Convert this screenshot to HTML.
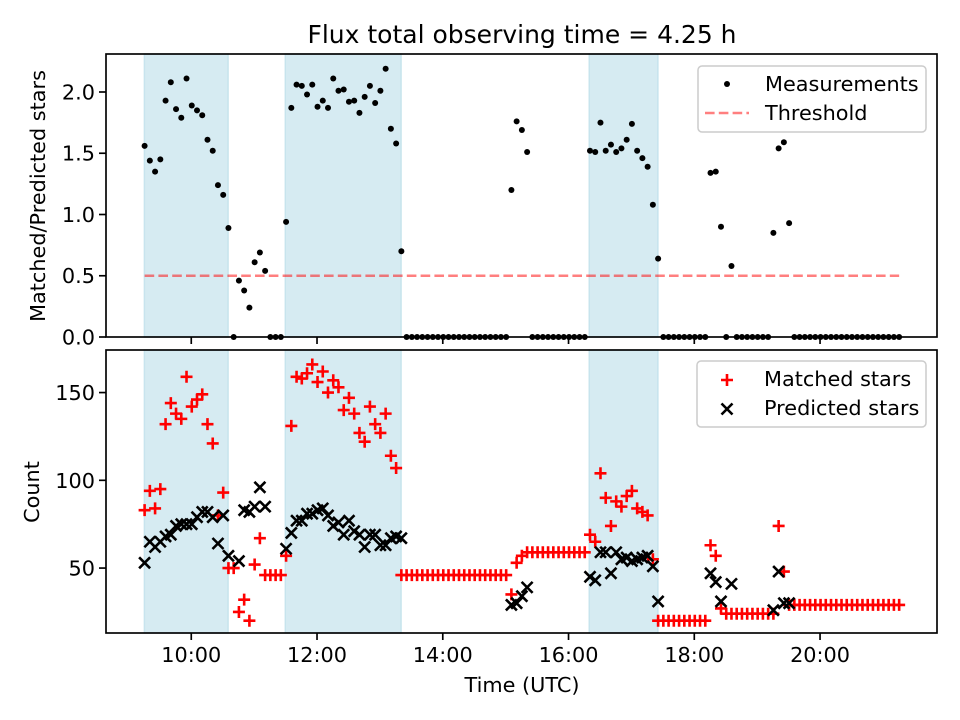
<!DOCTYPE html>
<html><head><meta charset="utf-8"><style>
html,body{margin:0;padding:0;background:#fff;}
svg{display:block;font-family:"DejaVu Sans","Liberation Sans",sans-serif;}
</style></head><body>
<svg id="chart" width="960" height="720" viewBox="0 0 960 720" xmlns="http://www.w3.org/2000/svg">
<rect x="0" y="0" width="960" height="720" fill="#fff"/>
<text x="522" y="43" font-size="25" text-anchor="middle" fill="#000">Flux total observing time = 4.25 h</text>
<g id="top"></g><g id="bot"></g>
<text transform="translate(45,196) rotate(-90)" font-size="20.8" text-anchor="middle" fill="#000">Matched/Predicted stars</text>
<text transform="translate(39,492) rotate(-90)" font-size="20.8" text-anchor="middle" fill="#000">Count</text>
<text x="522" y="692" font-size="20.8" text-anchor="middle" fill="#000">Time (UTC)</text>
</svg>
<script>
const startHour = 9.258;
const stepHours = 5/60;
const ratio = [1.56,1.44,1.35,1.45,1.93,2.08,1.86,1.79,2.11,1.89,
1.85,1.81,1.61,1.52,1.24,1.16,0.89,0,0.46,0.38,
0.24,0.61,0.69,0.54,0,0,0,0.94,1.87,2.06,
2.05,1.98,2.06,1.88,1.93,1.87,2.11,2.01,2.02,1.92,
1.93,1.83,1.96,2.05,1.91,2.01,2.19,1.70,1.58,0.70,
0,0,0,0,0,0,0,0,0,0,
0,0,0,0,0,0,0,0,0,0,
1.20,1.76,1.69,1.51,0,0,0,0,0,0,
0,0,0,0,0,1.52,1.51,1.75,1.52,1.57,
1.51,1.54,1.61,1.74,1.52,1.46,1.39,1.08,0.64,0,
0,0,0,0,0,0,0,0,1.34,1.35,
0.90,0,0.58,0,0,0,0,0,0,0,
0.85,1.54,1.59,0.93,0,0,0,0,0,0,
0,0,0,0,0,0,0,0,0,0,0,0,0,0,0];
const matched = [83,94,84,95,132,144,138,135,159,142,
146,149,132,121,80,93,50,50,25,32,
20,52,67,46,46,46,46,57,131,159,
158,161,166,156,162,150,157,153,140,147,
138,127,122,142,132,127,138,114,107,46,
46,46,46,46,46,46,46,46,46,46,
46,46,46,46,46,46,46,46,46,46,
35,53,57,59,59,59,59,59,59,59,
59,59,59,59,59,69,65,104,90,74,
88,85,91,94,84,82,80,55,20,20,
20,20,20,20,20,20,20,20,63,57,
27,24,24,24,24,24,24,24,24,24,
24,74,48,29,29,29,29,29,29,29,
29,29,29,29,29,29,29,29,29,29,29,29,29,29,29];
const N = null;
const predicted = [53,65,62,65,68,69,74,75,75,75,
79,82,82,79,64,80,57,N,54,83,
82,85,96,85,N,N,N,61,70,77,
77,81,81,83,84,80,74,76,69,77,
71,69,62,69,69,63,63,67,68,67,
N,N,N,N,N,N,N,N,N,N,
N,N,N,N,N,N,N,N,N,N,
29,30,34,39,N,N,N,N,N,N,
N,N,N,N,N,45,43,59,59,47,
59,55,56,54,55,56,57,51,31,N,
N,N,N,N,N,N,N,N,47,42,
31,N,41,N,N,N,N,N,N,N,
26,48,30,30,N,N,N,N,N,N,
N,N,N,N,N,N,N,N,N,N,N,N,N,N,N];
const bandStarts = [9.253, 11.494, 16.327];
const bandEnds = [10.588, 13.339, 17.424];
const thresholdValue = 0.5;
const xTickHours = [10,12,14,16,18,20];
const xTickLabels = ["10:00","12:00","14:00","16:00","18:00","20:00"];
const topTicks = [0,0.5,1.0,1.5,2.0];
const topTickLabels = ["0.0","0.5","1.0","1.5","2.0"];
const botTicks = [50,100,150];
const botTickLabels = ["50","100","150"];

const NS="http://www.w3.org/2000/svg";
const L=106,R=937;
const X0=8.644,X1=21.86;
function xs(t){return L+(t-X0)/(X1-X0)*(R-L);}
const TOP={y0:54,y1:337,lo:0,hi:2.3102};
const BOT={y0:350,y1:633,lo:13,hi:174.25};
function ys(a,v){return a.y1-(v-a.lo)/(a.hi-a.lo)*(a.y1-a.y0);}
function mk(tag,attrs,parent){const e=document.createElementNS(NS,tag);for(const k in attrs)e.setAttribute(k,attrs[k]);parent.appendChild(e);return e;}
const times=ratio.map((_,i)=>startHour+i*stepHours);

function frame(g,a,isBottom,ticks,labels){
  for(let b=0;b<bandStarts.length;b++){
    const r=mk('rect',{x:xs(bandStarts[b]),y:a.y0,width:xs(bandEnds[b])-xs(bandStarts[b]),height:a.y1-a.y0,fill:'#add8e6','fill-opacity':0.5,stroke:'#add8e6','stroke-opacity':0.5,'stroke-width':1.5},g);
    
    
  }
  ticks.forEach((v,i)=>{
    const y=ys(a,v);
    const tl=mk('line',{x1:L-7,x2:L,y1:y,y2:y,stroke:'#000','stroke-width':1.67},g);
    
    
    const t=mk('text',{x:L-11,y:y+7.5,'font-size':20.8,'text-anchor':'end',fill:'#000'},g);
    t.textContent=labels[i];
    
    
  });
  xTickHours.forEach((h,i)=>{
    const x=xs(h);
    const tl=mk('line',{x1:x,x2:x,y1:a.y1,y2:a.y1+7,stroke:'#000','stroke-width':1.67},g);
    
    
    if(isBottom){
      const t=mk('text',{x:x,y:a.y1+29,'font-size':20.8,'text-anchor':'middle',fill:'#000'},g);
      t.textContent=xTickLabels[i];
      
      
    }
  });
}
function border(g,a){
  const f=mk('rect',{x:L,y:a.y0,width:R-L,height:a.y1-a.y0,fill:'none',stroke:'#000','stroke-width':1.67},g);
  
  
}

const gt=document.getElementById('top');
frame(gt,TOP,false,topTicks,topTickLabels);
const th=mk('line',{x1:xs(times[0]),x2:xs(times[times.length-1]),y1:ys(TOP,thresholdValue),y2:ys(TOP,thresholdValue),stroke:'#ff0000','stroke-opacity':0.5,'stroke-width':2.6,'stroke-dasharray':'9.6,4.2'},gt);


ratio.forEach((v,i)=>{
  const c=mk('circle',{cx:xs(times[i]),cy:ys(TOP,v),r:3,fill:'#000'},gt);
  
  
});
border(gt,TOP);

const gb=document.getElementById('bot');
frame(gb,BOT,true,botTicks,botTickLabels);
function plus(g,x,y,s,col){return mk('path',{d:`M${x-s},${y}H${x+s}M${x},${y-s}V${y+s}`,stroke:col,'stroke-width':2.6,fill:'none'},g);}
function cross(g,x,y,s,col){return mk('path',{d:`M${x-s},${y-s}L${x+s},${y+s}M${x-s},${y+s}L${x+s},${y-s}`,stroke:col,'stroke-width':2.6,fill:'none'},g);}
matched.forEach((v,i)=>{
  const p=plus(gb,xs(times[i]),ys(BOT,v),6,'#ff0000');
  
  
});
predicted.forEach((v,i)=>{
  if(v===null)return;
  const p=cross(gb,xs(times[i]),ys(BOT,v),5.5,'#000');
  
  
});
border(gb,BOT);

// legends
function legendBox(g,x,y,w,h,name){
  const r=mk('rect',{x:x,y:y,width:w,height:h,rx:4,fill:'#fff','fill-opacity':0.8,stroke:'#cccccc','stroke-width':1.5},g);
  
  
}
legendBox(gt,698,66,228,66,'top-legend');
const ld=mk('circle',{cx:727,cy:84,r:3,fill:'#000'},gt);


const lt1=mk('text',{x:765,y:91,'font-size':20.8,fill:'#000'},gt);lt1.textContent='Measurements';


const ll=mk('line',{x1:705,x2:749,y1:113,y2:113,stroke:'#ff0000','stroke-opacity':0.5,'stroke-width':2.6,'stroke-dasharray':'9.6,4.2'},gt);


const lt2=mk('text',{x:765,y:120,'font-size':20.8,fill:'#000'},gt);lt2.textContent='Threshold';



legendBox(gb,697,361,229,66,'bottom-legend');
const lp=plus(gb,727,380,6,'#ff0000');


const lt3=mk('text',{x:764,y:386,'font-size':20.8,fill:'#000'},gb);lt3.textContent='Matched stars';


const lx=cross(gb,727,409,5.5,'#000');


const lt4=mk('text',{x:764,y:415,'font-size':20.8,fill:'#000'},gb);lt4.textContent='Predicted stars';


</script>
</body></html>
